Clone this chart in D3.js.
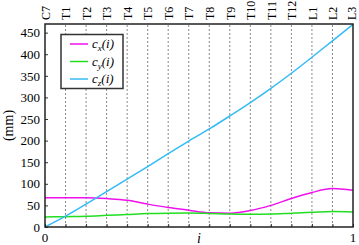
<!DOCTYPE html>
<html><head><meta charset="utf-8">
<script src="https://cdn.jsdelivr.net/npm/d3@7"></script>
<style>body{margin:0;background:#fff}svg{display:block}text{font-family:"Liberation Serif","DejaVu Serif",serif}</style>
</head><body><div id="c"></div>
<script>
const vertebrae = ["C7","T1","T2","T3","T4","T5","T6","T7","T8","T9","T10","T11","T12","L1","L2","L3"];
const iValues = [0,1/15,2/15,3/15,4/15,5/15,6/15,7/15,8/15,9/15,10/15,11/15,12/15,13/15,14/15,1];
const cx = [67.5,68,68,66,62,53,45,39,33,32,38,50,66,80,89,85];
const cy = [23,24,25,27,29,31,32,32.5,31.5,30,29.5,30,32,34,36,35];
const cz = [0,25,53,82,111,140,170,199,227,257,288,321,356,393,431,469];
const yTicks = [0,50,100,150,200,250,300,350,400,450];
const seriesNames = ["x","y","z"];
const colors = ["#ee11ee","#22dd22","#33bbf5"];

const W=359,H=245, m={l:45,r:6,t:24,b:18};
const svg=d3.select("#c").append("svg").attr("width",W).attr("height",H);
const x=d3.scaleLinear().domain([0,1]).range([m.l,W-m.r]);
const y=d3.scaleLinear().domain([0,470]).range([H-m.b,m.t]);

// dashed verticals
svg.append("g").selectAll("line").data(iValues.slice(1,-1)).join("line")
  .attr("x1",d=>x(d)).attr("x2",d=>x(d)).attr("y1",y(0)).attr("y2",y(470))
  .attr("stroke","#888").attr("stroke-width",1).attr("stroke-dasharray","2,2");

// series
const line=d3.line().x((d,i)=>x(iValues[i])).y(d=>y(d)).curve(d3.curveMonotoneX);
[cx,cy,cz].forEach((s,k)=>{
  svg.append("path").datum(s).attr("d",line).attr("fill","none")
    .attr("stroke",colors[k]).attr("stroke-width",1.5);
});

// left axis
const ya=svg.append("g").attr("transform",`translate(${m.l},0)`)
  .call(d3.axisLeft(y).tickValues(yTicks).tickSize(-3).tickPadding(5));
ya.attr("font-family",null).attr("font-size",null);
ya.select(".domain").remove();
ya.selectAll("text").attr("font-size",13).attr("fill","#000");
ya.selectAll("line").attr("stroke","#333");

// bottom ticks
const xa=svg.append("g").attr("transform",`translate(0,${y(0)})`)
  .call(d3.axisBottom(x).tickValues(iValues).tickSize(-3).tickFormat(""));
xa.select(".domain").remove();
xa.selectAll("line").attr("stroke","#333");
svg.append("text").attr("x",x(0)).attr("y",H-3).attr("text-anchor","middle").attr("font-size",13).text("0");
svg.append("text").attr("x",x(1)).attr("y",H-3).attr("text-anchor","middle").attr("font-size",13).text("1");
svg.append("text").attr("x",x(0.5)).attr("y",H-2).attr("text-anchor","middle").attr("font-size",14).attr("font-style","italic").text("i");

// top labels
const ta=svg.append("g").attr("transform",`translate(0,${m.t})`)
  .call(d3.axisTop(x).tickValues(iValues).tickSize(0).tickPadding(4).tickFormat((d,i)=>vertebrae[i]));
ta.attr("font-family",null).attr("font-size",null);
ta.select(".domain").remove();
ta.selectAll(".tick text").attr("text-anchor","start")
  .attr("transform","rotate(-90)").attr("x",4).attr("y",(d,i)=>i===vertebrae.length-1?-1.5:0).attr("dy","0.35em")
  .attr("font-size",12).attr("fill","#000");

// frame
svg.append("rect").attr("x",m.l).attr("y",m.t).attr("width",W-m.r-m.l).attr("height",H-m.b-m.t)
  .attr("fill","none").attr("stroke","#222").attr("stroke-width",1.5);

// y label
svg.append("text").attr("transform",`translate(13,${(m.t+H-m.b)/2}) rotate(-90)`).attr("text-anchor","middle")
  .attr("font-size",14).text("(mm)");

// legend
const lg=svg.append("g");
lg.append("rect").attr("x",61).attr("y",34.5).attr("width",62).attr("height",54).attr("fill","#fff")
  .attr("stroke","#333").attr("stroke-width",1.5);
seriesNames.forEach((n,k)=>{
  const yy=44+k*17.5;
  lg.append("line").attr("x1",70).attr("x2",88).attr("y1",yy).attr("y2",yy).attr("stroke",colors[k]).attr("stroke-width",1.5);
  const t=lg.append("text").attr("x",92).attr("y",yy+4).attr("font-size",13).attr("font-style","italic");
  t.append("tspan").text("c");
  t.append("tspan").attr("font-size",9).attr("dy",3).text(n);
  t.append("tspan").attr("dy",-3).text("(i)");
});
</script></body></html>
